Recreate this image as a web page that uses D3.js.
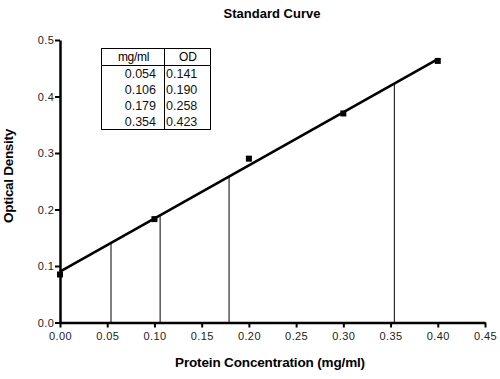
<!DOCTYPE html>
<html><head><meta charset="utf-8">
<script src="https://cdn.jsdelivr.net/npm/d3@7"></script>
<style>
body{margin:0;background:#fff;}
text{font-family:"Liberation Sans",Arial,sans-serif;}
</style></head>
<body><svg id="c" width="500" height="379"></svg>
<script>
const concentrations = [0.00, 0.10, 0.20, 0.30, 0.40];
const densities = [0.085, 0.183, 0.290, 0.370, 0.463];
const fitIntercept = 0.0902;
const fitSlope = 0.94;
const fitRange = [0.0, 0.40];
const tableConc = [0.054, 0.106, 0.179, 0.354];
const tableOD = [0.141, 0.190, 0.258, 0.423];
const tableHeaders = ["mg/ml", "OD"];
const xTicks = [0, 0.05, 0.10, 0.15, 0.20, 0.25, 0.30, 0.35, 0.40, 0.45];
const yTicks = [0.0, 0.1, 0.2, 0.3, 0.4, 0.5];

const svg = d3.select("#c");
const x = d3.scaleLinear().domain([0, 0.45]).range([60, 485]);
const y = d3.scaleLinear().domain([0, 0.5]).range([322.5, 40]);

// title
svg.append("text").attr("x", 272).attr("y", 18).attr("text-anchor", "middle")
  .attr("font-size", 13).attr("font-weight", "bold").attr("letter-spacing", "0").text("Standard Curve");

// drop lines
svg.selectAll(".drop").data(tableConc).enter().append("line")
  .attr("x1", d => x(d)).attr("x2", d => x(d))
  .attr("y1", y(0)).attr("y2", (d, i) => y(tableOD[i]))
  .attr("stroke", "#000").attr("stroke-width", 1);

// fit line
svg.append("line")
  .attr("x1", x(fitRange[0])).attr("y1", y(fitIntercept + fitSlope * fitRange[0]))
  .attr("x2", x(fitRange[1])).attr("y2", y(fitIntercept + fitSlope * fitRange[1]))
  .attr("stroke", "#000").attr("stroke-width", 2.6);

// points
svg.selectAll(".pt").data(concentrations).enter().append("rect")
  .attr("x", d => x(d) - 3).attr("y", (d, i) => y(densities[i]) - 3)
  .attr("width", 6).attr("height", 6).attr("fill", "#000");

// axes
const xAxis = svg.append("g").attr("transform", `translate(0,${y(0)})`)
  .call(d3.axisBottom(x).tickValues(xTicks).tickFormat(d3.format(".2f")).tickSize(5).tickSizeOuter(0));
const yAxis = svg.append("g").attr("transform", `translate(${x(0)},0)`)
  .call(d3.axisLeft(y).tickValues(yTicks).tickFormat(d3.format(".1f")).tickSize(5).tickSizeOuter(0));
[xAxis, yAxis].forEach(a => {
  a.select(".domain").attr("stroke-width", 2.5).attr("stroke", "#000");
  a.selectAll(".tick line").attr("stroke-width", 2).attr("stroke", "#000");
  a.selectAll("text").attr("font-size", 11).attr("fill", "#222").attr("letter-spacing", "0.4")
    .attr("font-family", "Liberation Sans, Arial, sans-serif");
});
xAxis.selectAll("text").attr("dy", "0.9em");
yAxis.selectAll("text").attr("dx", "0.2em");

// axis titles
svg.append("text").attr("x", 270).attr("y", 367).attr("text-anchor", "middle")
  .attr("font-size", 13.5).attr("font-weight", "bold").attr("letter-spacing", "-0.15")
  .text("Protein Concentration (mg/ml)");
svg.append("text").attr("transform", "translate(13,176) rotate(-90)").attr("text-anchor", "middle")
  .attr("font-size", 13.5).attr("font-weight", "bold").attr("letter-spacing", "-0.3")
  .text("Optical Density");

// table
const tx0 = 101, tx1 = 164, tx2 = 210, ty0 = 48, tyH = 65, ty1 = 129;
const tbl = svg.append("g");
tbl.append("rect").attr("x", tx0 + 0.5).attr("y", ty0 + 0.5).attr("width", tx2 - tx0).attr("height", ty1 - ty0)
  .attr("fill", "none").attr("stroke", "#000");
tbl.append("line").attr("x1", tx1 + 0.5).attr("x2", tx1 + 0.5).attr("y1", ty0).attr("y2", ty1).attr("stroke", "#000");
tbl.append("line").attr("x1", tx0).attr("x2", tx2).attr("y1", tyH + 0.5).attr("y2", tyH + 0.5).attr("stroke", "#000");
tbl.append("text").attr("x", (tx0 + tx1) / 2 + 1).attr("y", 61).attr("text-anchor", "middle")
  .attr("font-size", 12).attr("letter-spacing", "-0.3").text(tableHeaders[0]);
tbl.append("text").attr("x", (tx1 + tx2) / 2 + 1).attr("y", 61).attr("text-anchor", "middle")
  .attr("font-size", 12).text(tableHeaders[1]);
const fmt = d3.format(".3f");
tableConc.forEach((c, i) => {
  tbl.append("text").attr("x", 156).attr("y", 78 + i * 16).attr("text-anchor", "end")
    .attr("font-size", 12.5).attr("fill", "#111").text(fmt(c));
  tbl.append("text").attr("x", 166).attr("y", 78 + i * 16).attr("text-anchor", "start")
    .attr("font-size", 12.5).attr("fill", "#111").text(fmt(tableOD[i]));
});
</script></body></html>
